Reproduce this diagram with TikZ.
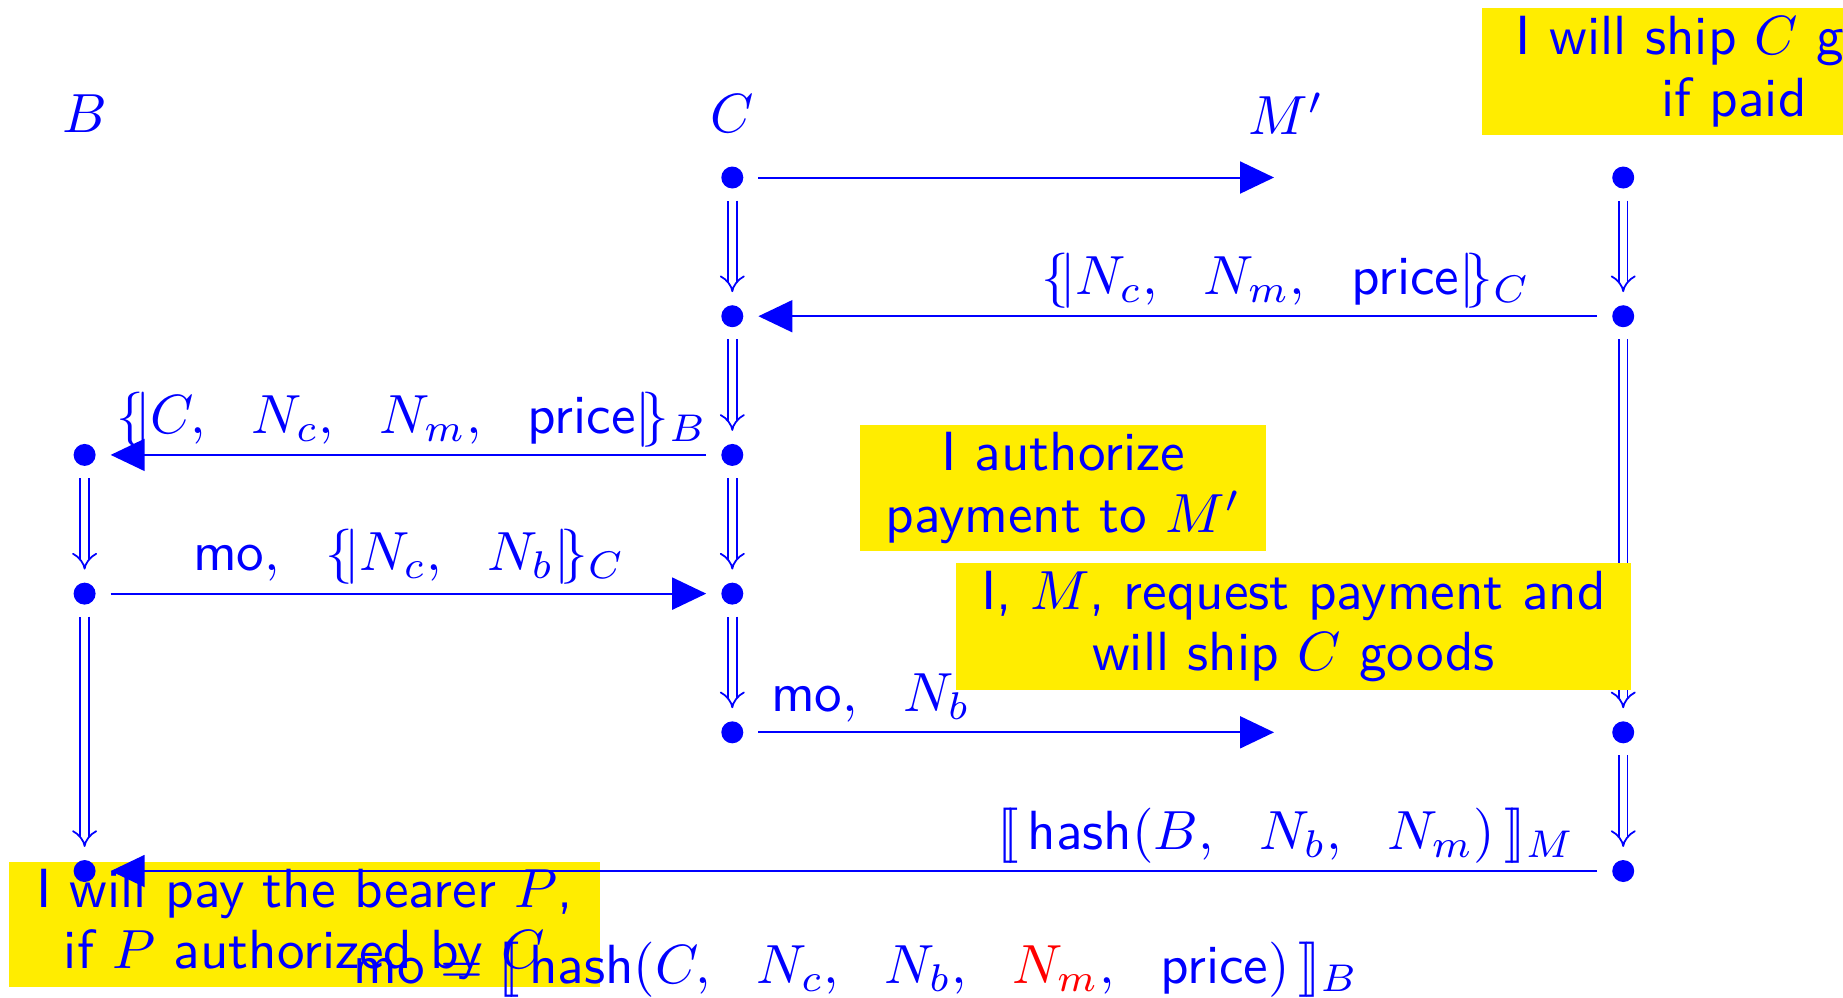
\documentclass[tikz,border=0pt]{standalone}
\usetikzlibrary{arrows.meta}
\definecolor{hl}{RGB}{255,237,0}
\begin{document}
\begin{tikzpicture}[x=0.6369cm,y=0.6369cm,
  every node/.style={text=blue, font=\fontsize{10}{11.2}\selectfont\sffamily},
  dot/.style={circle, fill=blue, inner sep=0pt, minimum size=0.140cm},
  msg/.style={draw=blue, line width=0.363pt, -{Triangle[length=0.2166cm,width=0.2038cm]}, shorten <=0.0892cm, shorten >=0.0892cm},
  seq/.style={draw=blue, double=white, double distance=0.0446cm, line width=0.318pt, -{Implies[scale=1.3]}, shorten <=0.070cm, shorten >=0.0764cm},
  lbl/.style={inner sep=0pt, anchor=south},
  note/.style={fill=hl, align=center, inner sep=0pt},
]
\useasboundingbox (0,0) rectangle (18.43,-9.97);

% note behind the arrows
\node[note, minimum width=3.764cm, minimum height=0.796cm] (n4) at (3.045,-9.245)
  {I will pay the bearer $P$,\\if $P$ authorized by $C$};

% column heads
\node (hB) at (0.846,-1.14) {$B$};
\node (hC) at (7.323,-1.14) {$C$};
\node (hM) at (12.86,-1.14) {$M'$};

% dots
\node[dot] (c1) at (7.323,-1.775) {};
\node[dot] (m1) at (16.232,-1.775) {};
\node[dot] (c2) at (7.323,-3.162) {};
\node[dot] (m2) at (16.232,-3.162) {};
\node[dot] (b3) at (0.846,-4.549) {};
\node[dot] (c3) at (7.323,-4.549) {};
\node[dot] (b4) at (0.846,-5.936) {};
\node[dot] (c4) at (7.323,-5.936) {};
\node[dot] (c5) at (7.323,-7.323) {};
\node[dot] (m5) at (16.232,-7.323) {};
\node[dot] (b6) at (0.846,-8.710) {};
\node[dot] (m6) at (16.232,-8.710) {};
\coordinate (p1) at (12.88,-1.775);
\coordinate (p5) at (12.88,-7.323);

% sequence (double) arrows
\draw[seq] (c1) -- (c2);
\draw[seq] (c2) -- (c3);
\draw[seq] (c3) -- (c4);
\draw[seq] (c4) -- (c5);
\draw[seq] (b3) -- (b4);
\draw[seq] (b4) -- (b6);
\draw[seq] (m1) -- (m2);
\draw[seq] (m2) -- (m5);
\draw[seq] (m5) -- (m6);

% messages
\draw[msg] (c1) -- (p1);
\draw[msg] (m2) -- (c2);
\draw[msg] (c3) -- (b3);
\draw[msg] (b4) -- (c4);
\draw[msg] (c5) -- (p5);
\draw[msg] (m6) -- (b6);

% message labels
\node[lbl] (l2) at (12.86,-3.09) {$\{\!|N_c,\ \ N_m,\ \ \textsf{price}|\!\}_C$};
\node[lbl] (l3) at (4.12,-4.48) {$\{\!|C,\ \ N_c,\ \ N_m,\ \ \textsf{price}|\!\}_B$};
\node[lbl] (l4) at (4.09,-5.855) {$\textsf{mo},\ \ \{\!|N_c,\ \ N_b|\!\}_C$};
\node[lbl, anchor=south west] (l5) at (7.70,-7.23) {$\textsf{mo},\ \ N_b$};
\node[lbl] (l6) at (12.86,-8.645) {$[\![\,\textsf{hash}(B,\ \ N_b,\ \ N_m)\,]\!]_M$};
\node[inner sep=0pt, anchor=base] (l7) at (8.56,-9.835)
  {$\textsf{mo} = [\![\,\textsf{hash}(C,\ \ N_c,\ \ N_b,\ \ \textcolor{red}{N_m},\ \ \textsf{price})\,]\!]_B$};

% notes on top
\node[note, minimum width=3.210cm, minimum height=0.809cm] (n1) at (17.34,-0.715)
  {I will ship $C$ goods\\if paid};
\node[note, minimum width=2.586cm, minimum height=0.8025cm] (n2) at (10.63,-4.88)
  {I authorize\\payment to $M'$};
\node[note, minimum width=4.299cm, minimum height=0.809cm] (n3) at (12.935,-6.265)
  {I, $M$, request payment and\\will ship $C$ goods};
\end{tikzpicture}
\end{document}
